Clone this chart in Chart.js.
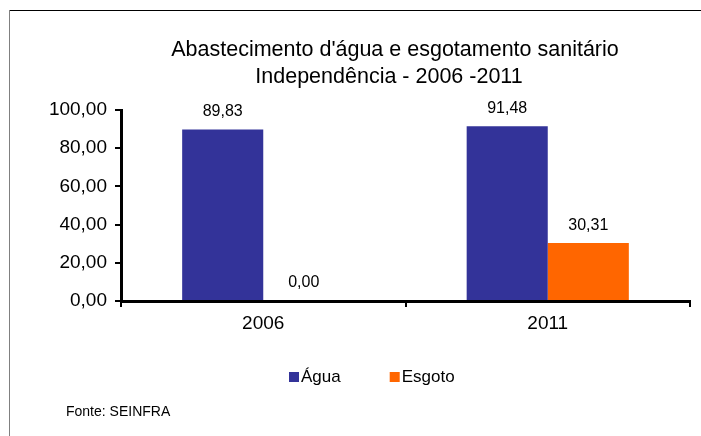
<!DOCTYPE html>
<html>
<head>
<meta charset="utf-8">
<script src="https://cdn.jsdelivr.net/npm/chart.js@4/dist/chart.umd.min.js"></script>
<style>
  body { margin: 0; background: #fff; }
  canvas { display: block; }
</style>
</head>
<body>
<canvas id="chart" width="701" height="436"></canvas>
<script>
// data
const years = ['2006', '2011'];
const agua = [89.83, 91.48];
const esgoto = [0.00, 30.31];
const titleLines = ["Abastecimento d'água e esgotamento sanitário", 'Independência - 2006 -2011'];
const source = 'Fonte: SEINFRA';

const FONT = "'Liberation Sans', Arial, sans-serif";

function fmt(v) {
  return v.toFixed(2).replace('.', ',');
}

// frame, title, value labels, legend and source note
const extras = {
  id: 'extras',
  afterDraw(chart) {
    const ctx = chart.ctx;
    ctx.save();

    // frame
    ctx.lineWidth = 1;
    ctx.strokeStyle = '#000';
    ctx.beginPath();
    ctx.moveTo(9, 10.5);
    ctx.lineTo(701, 10.5);
    ctx.stroke();
    ctx.strokeStyle = '#808080';
    ctx.beginPath();
    ctx.moveTo(9.5, 10);
    ctx.lineTo(9.5, 436);
    ctx.stroke();

    // title
    ctx.fillStyle = '#000';
    ctx.textAlign = 'center';
    ctx.textBaseline = 'middle';
    ctx.font = '21.5px ' + FONT;
    ctx.fillText(titleLines[0], 395, 50);
    ctx.fillText(titleLines[1], 389, 77);

    // value labels above bars
    ctx.font = '16px ' + FONT;
    chart.data.datasets.forEach((ds, i) => {
      chart.getDatasetMeta(i).data.forEach((bar, j) => {
        ctx.fillText(fmt(ds.data[j]), bar.x, bar.y - 18);
      });
    });

    // legend
    ctx.font = '17px ' + FONT;
    ctx.textAlign = 'left';
    let x = 289;
    chart.data.datasets.forEach(ds => {
      ctx.fillStyle = ds.backgroundColor;
      ctx.fillRect(x, 372, 10, 10);
      ctx.fillStyle = '#000';
      ctx.fillText(ds.label, x + 12, 377);
      x += 12 + ctx.measureText(ds.label).width + 49;
    });

    // source
    ctx.font = '14px ' + FONT;
    ctx.fillText(source, 66, 412);

    ctx.restore();
  }
};

new Chart(document.getElementById('chart'), {
  type: 'bar',
  data: {
    labels: years,
    datasets: [
      { label: 'Água', data: agua, backgroundColor: '#333399' },
      { label: 'Esgoto', data: esgoto, backgroundColor: '#FF6600' }
    ]
  },
  options: {
    responsive: false,
    animation: false,
    categoryPercentage: 0.57,
    barPercentage: 1.0,
    layout: { padding: { top: 110, right: 11, left: 0, bottom: 0 } },
    plugins: {
      legend: { display: false },
      title: { display: false },
      tooltip: { enabled: false }
    },
    scales: {
      x: {
        afterFit: s => { s.height = 135; },
        border: { color: '#000', width: 3 },
        grid: { drawOnChartArea: false, color: '#000', lineWidth: 2, tickLength: 6 },
        ticks: { color: '#000', font: { family: FONT, size: 19 }, padding: 5 }
      },
      y: {
        min: 0,
        max: 100,
        afterFit: s => { s.width = 121; },
        border: { color: '#000', width: 3 },
        grid: { drawOnChartArea: false, color: '#000', lineWidth: 2, tickLength: 6 },
        ticks: {
          stepSize: 20,
          color: '#000',
          font: { family: FONT, size: 19 },
          padding: 8,
          callback: v => fmt(v)
        }
      }
    }
  },
  plugins: [extras]
});
</script>
</body>
</html>
